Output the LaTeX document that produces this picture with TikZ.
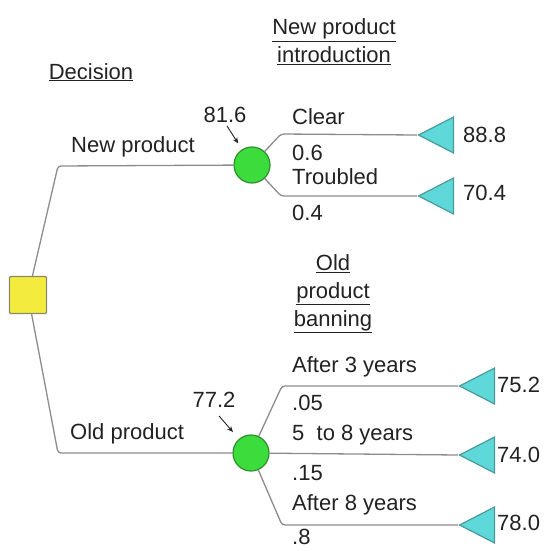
\documentclass[tikz,border=0pt]{standalone}
\usepackage{fontspec}
\setmainfont{Liberation Sans}
\usetikzlibrary{shapes.geometric,arrows.meta,calc}
\definecolor{sqfill}{HTML}{F3EC3E}
\definecolor{sqdraw}{HTML}{8A8A6A}
\definecolor{cfill}{HTML}{3CDC3C}
\definecolor{cdraw}{HTML}{2F8F2F}
\definecolor{tfill}{HTML}{5ED8D8}
\definecolor{tdraw}{HTML}{4A9A9A}
\definecolor{lcol}{HTML}{8C8C8C}
\definecolor{txt}{HTML}{222222}
\tikzset{
  lbl/.style={font=\fontsize{22}{28}\selectfont, text=txt, inner sep=0pt},
  wlbl/.style={lbl, anchor=west},
  decbox/.style={draw=sqdraw, fill=sqfill, line width=1.2pt, minimum size=37pt, inner sep=0pt, rounded corners=1pt},
  chance/.style={circle, draw=cdraw, fill=cfill, line width=1.2pt, minimum size=36pt, inner sep=0pt},
  endtri/.style={isosceles triangle, isosceles triangle stretches, shape border rotate=180, draw=tdraw, fill=tfill, line width=1.2pt, minimum width=36pt, minimum height=35pt, inner sep=0pt, anchor=apex},
  branch/.style={draw=lcol, line width=1.3pt, rounded corners=3pt},
  ptr/.style={draw=txt, line width=0.9pt, -{Stealth[length=6pt,width=5pt]}}
}
\begin{document}
\begin{tikzpicture}[x=1pt,y=-1pt]
\useasboundingbox (0,0) rectangle (550,551);
% nodes
\node[decbox] (d) at (28,295) {};
\node[chance] (n1) at (252,165) {};
\node[chance] (n2) at (251,453) {};
\node[endtri] (t11) at (417,135) {};
\node[endtri] (t12) at (417,196) {};
\node[endtri] (t21) at (458,386) {};
\node[endtri] (t22) at (458,455) {};
\node[endtri] (t23) at (458,525) {};
% corners
\coordinate (c1) at (58,166);
\coordinate (c2) at (58,453);
\coordinate (c11) at (281,134);
\coordinate (c12) at (281,196);
\coordinate (c21) at (282,386);
\coordinate (c23) at (282,525);
% connectors
\draw[branch] (d) -- (c1) -- (n1);
\draw[branch] (d) -- (c2) -- (n2);
\draw[branch] (n1) -- (c11) -- (t11.apex);
\draw[branch] (n1) -- (c12) -- (t12.apex);
\draw[branch] (n2) -- (c21) -- (t21.apex);
\draw[branch] (n2) -- (t22.apex);
\draw[branch] (n2) -- (c23) -- (t23.apex);
% titles
\node[lbl, anchor=base] (hdec) at (91,79) {\underline{Decision}};
\node[lbl, align=center] (hnew) at (334,42) {\underline{New product}\\\underline{introduction}};
\node[lbl, align=center] (hold) at (333,294) {\underline{Old}\\\underline{product}\\\underline{banning}};
% values at chance nodes
\node[lbl] (v1) at (225,115) {81.6};
\node[lbl] (v2) at (214,400) {77.2};
\draw[ptr, shorten >=7pt] ($(v1.south)+(2,3)$) -- (n1);
\draw[ptr, shorten >=9pt] ($(v2.south)+(5,8)$) -- (n2);
% branch labels
\node[wlbl] (lnew) at (71,147) {New product};
\node[wlbl] (lold) at (70,434) {Old product};
\node[wlbl] (lclr) at (292,117) {Clear};
\node[wlbl] (p1) at (292,153) {0.6};
\node[wlbl] (ltrb) at (292,177) {Troubled};
\node[wlbl] (p2) at (292,213) {0.4};
\node[wlbl] (la3) at (292,367) {After 3 years};
\node[wlbl] (p3) at (292,403) {.05};
\node[wlbl] (l58) at (292,435) {5\ \ to 8 years};
\node[wlbl] (p4) at (292,473) {.15};
\node[wlbl] (la8) at (292,505) {After 8 years};
\node[wlbl] (p5) at (292,537) {.8};
% payoffs
\node[wlbl] (r1) at (463,135) {88.8};
\node[wlbl] (r2) at (463,193) {70.4};
\node[wlbl] (r3) at (497,385) {75.2};
\node[wlbl] (r4) at (497,455) {74.0};
\node[wlbl] (r5) at (497,523) {78.0};
\end{tikzpicture}
\end{document}
